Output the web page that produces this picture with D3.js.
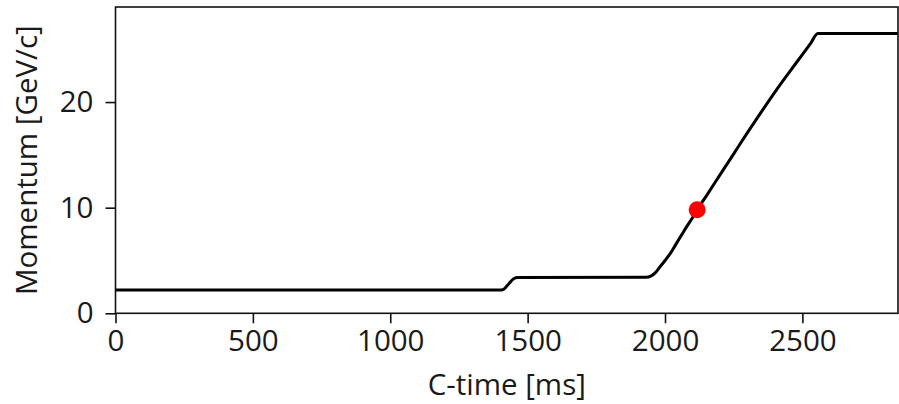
<!DOCTYPE html>
<html>
<head>
<meta charset="utf-8">
<script src="https://cdn.jsdelivr.net/npm/d3@7"></script>
<style>
  body { margin: 0; background: #fff; }
  svg text { font-family: "Open Sans", sans-serif; fill: #1a1a1a; }
</style>
</head>
<body>
<svg id="chart" width="899" height="404"></svg>
<script>
// momentum ramp over the cycle
const cycleTime = [0, 1400, 1412, 1425, 1440, 1452, 1462, 1930, 1950, 1965, 1980, 2000, 2020, 2040, 2060,
                   2080, 2100, 2117, 2150, 2200, 2250, 2300, 2350, 2400, 2450, 2500, 2530, 2556, 2848];
const momentum = [2.2, 2.2, 2.27, 2.6, 3.05, 3.32, 3.4, 3.42, 3.55, 3.85, 4.35, 5.0, 5.7, 6.55, 7.4,
                  8.25, 9.05, 9.8, 11.1, 13.1, 15.1, 17.1, 19.05, 20.95, 22.75, 24.5, 25.55, 26.5, 26.5];
const markerTime = [2117];
const markerMomentum = [9.8];
const xTicks = [0, 500, 1000, 1500, 2000, 2500];
const yTicks = [0, 10, 20];

const svg = d3.select("#chart");
const width = 899, height = 404;
const margin = { top: 7, right: 1, bottom: 90.7, left: 115.5 };
const plotW = width - margin.left - margin.right;
const plotH = height - margin.top - margin.bottom;

const x = d3.scaleLinear().domain([0, 2848]).range([0, plotW]);
const y = d3.scaleLinear().domain([0, 29]).range([plotH, 0]);

const g = svg.append("g").attr("transform", `translate(${margin.left},${margin.top})`);

const data = cycleTime.map((t, i) => ({ t: t, p: momentum[i] }));

g.append("path")
    .datum(data)
    .attr("fill", "none")
    .attr("stroke", "#000")
    .attr("stroke-width", 3)
    .attr("stroke-linejoin", "round")
    .attr("d", d3.line().x(d => x(d.t)).y(d => y(d.p)).curve(d3.curveMonotoneX));

g.selectAll(".marker")
    .data(markerTime.map((t, i) => ({ t: t, p: markerMomentum[i] })))
    .join("circle")
    .attr("class", "marker")
    .attr("cx", d => x(d.t))
    .attr("cy", d => y(d.p))
    .attr("r", 8.5)
    .attr("fill", "#f00");

// frame
g.append("rect")
    .attr("width", plotW)
    .attr("height", plotH)
    .attr("fill", "none")
    .attr("stroke", "#111")
    .attr("stroke-width", 1.6);

const xAxis = g.append("g")
    .attr("transform", `translate(0,${plotH})`)
    .call(d3.axisBottom(x).tickValues(xTicks).tickFormat(d3.format("d"))
        .tickSize(10).tickPadding(7).tickSizeOuter(0));
const yAxis = g.append("g")
    .call(d3.axisLeft(y).tickValues(yTicks).tickFormat(d3.format("d"))
        .tickSize(10).tickPadding(12).tickSizeOuter(0));

[xAxis, yAxis].forEach(a => {
    a.select(".domain").remove();
    a.selectAll("line").attr("stroke", "#111").attr("stroke-width", 1.6);
    a.selectAll("text").style("font-size", "29.5px").attr("fill", "#1a1a1a");
});

svg.append("text")
    .attr("x", margin.left + plotW / 2)
    .attr("y", 395)
    .attr("text-anchor", "middle")
    .style("font-size", "29.5px")
    .text("C-time [ms]");

svg.append("text")
    .attr("transform", `translate(37,${margin.top + plotH / 2}) rotate(-90)`)
    .attr("text-anchor", "middle")
    .style("font-size", "29.5px")
    .text("Momentum [GeV/c]");
</script>
</body>
</html>
